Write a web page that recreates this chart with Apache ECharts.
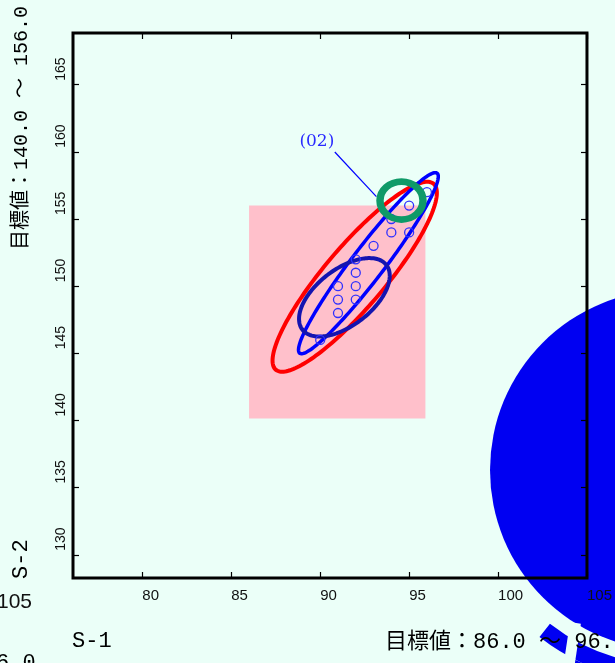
<!DOCTYPE html>
<html>
<head>
<meta charset="utf-8">
<script src="https://cdn.jsdelivr.net/npm/echarts@6/dist/echarts.min.js"></script>
<style>
html,body{margin:0;padding:0;background:#ebfff8;}
#chart{width:615px;height:663px;}
</style>
</head>
<body>
<div id="chart"></div>
<script>
// ---- data ----
const xTicks = [80, 85, 90, 95, 100, 105];
const yTicks = [130, 135, 140, 145, 150, 155, 160, 165];
const xRange = [76.1, 105];
const yRange = [128.27, 168.85];
const pointsX = [90, 91, 91, 91, 92, 92, 92, 92, 93, 94, 95, 94, 95, 96];
const pointsY = [146, 148, 149, 150, 150, 149, 151, 152, 153, 154, 154, 155, 156, 157];
const targetX = [86, 96];
const targetY = [140, 156];
// ellipse: centre x, centre y, half-extent x, half-extent y, correlation
const ellipseRed = [91.94, 150.7, 4.62, 7.07, 0.883];
const ellipseBlue = [92.71, 151.71, 3.93, 6.74, 0.957];
const ellipseNavy = [91.36, 149.17, 2.55, 2.92, 0.55];
const highlightPoint = [94.57, 156.37];
const noteText = '(02)';
const notePoint = [89.81, 160.75];
const noteLeader = [[90.82, 159.99], [93.16, 156.66]];
const xTitle = 'S-1';
const yTitle = 'S-2';
const xTarget = '目標値：86.0 ～ 96.0';
const yTarget = '目標値：140.0 ～ 156.0';

const chart = echarts.init(document.getElementById('chart'));

function ellipseItem(color, width) {
  return function (params, api) {
    const cx = api.value(0), cy = api.value(1), ax = api.value(2), ay = api.value(3), r = api.value(4);
    const s = Math.sqrt(1 - r * r);
    const pts = [];
    for (let i = 0; i < 180; i++) {
      const t = i / 180 * Math.PI * 2;
      pts.push(api.coord([cx + ax * Math.cos(t), cy + ay * (r * Math.cos(t) + s * Math.sin(t))]));
    }
    return {type: 'polygon', shape: {points: pts}, style: {fill: 'none', stroke: color, lineWidth: width}};
  };
}

const monoFont = '"Liberation Mono", "Noto Sans CJK JP"';
const blueFill = '#0000f2';
const bg = '#ebfff8';

const option = {
  animation: false,
  backgroundColor: bg,
  grid: {left: 73, top: 33, width: 514, height: 545, show: true, borderColor: '#000', borderWidth: 3, backgroundColor: 'transparent'},
  xAxis: [
    {type: 'value', min: xRange[0], max: xRange[1], position: 'bottom',
      axisLine: {show: false}, splitLine: {show: false},
      axisTick: {inside: true, length: 6, customValues: xTicks, lineStyle: {color: '#000', width: 1.2}},
      axisLabel: {customValues: xTicks, align: 'left', margin: 10, fontSize: 15, color: '#111', fontFamily: 'Liberation Sans', showMaxLabel: true, showMinLabel: true}},
    {type: 'value', min: xRange[0], max: xRange[1], position: 'top',
      axisLine: {show: false}, splitLine: {show: false},
      axisTick: {inside: true, length: 6, customValues: xTicks, lineStyle: {color: '#000', width: 1.2}},
      axisLabel: {show: false}}
  ],
  yAxis: [
    {type: 'value', min: yRange[0], max: yRange[1], position: 'left',
      axisLine: {show: false}, splitLine: {show: false},
      axisTick: {inside: true, length: 6, customValues: yTicks, lineStyle: {color: '#000', width: 1.2}},
      axisLabel: {customValues: yTicks, rotate: 90, align: 'left', margin: 5, padding: [0, 0, 0, 4], fontSize: 14, color: '#111', fontFamily: 'Liberation Sans', showMaxLabel: true, showMinLabel: true}},
    {type: 'value', min: yRange[0], max: yRange[1], position: 'right',
      axisLine: {show: false}, splitLine: {show: false},
      axisTick: {inside: true, length: 6, customValues: yTicks, lineStyle: {color: '#000', width: 1.2}},
      axisLabel: {show: false}}
  ],
  graphic: [
    {type: 'circle', z: -1, shape: {cx: 670, cy: 470, r: 180}, style: {fill: blueFill}},
    {type: 'sector', z: -1, shape: {cx: 670, cy: 470, r0: 195, r: 212, startAngle: Math.PI * 100 / 180, endAngle: Math.PI * 128 / 180}, style: {fill: blueFill}},
    {type: 'sector', z: -1, shape: {cx: 670, cy: 470, r0: 212, r: 320, startAngle: Math.PI * 100 / 180, endAngle: Math.PI * 117 / 180}, style: {fill: blueFill}},
    {type: 'rect', z: -1, x: 570, y: 622, rotation: -0.15, shape: {x: 0, y: 0, width: 11, height: 50}, style: {fill: bg}},
    {type: 'text', z: 100, x: 385, y: 642, style: {text: xTarget, font: '22px ' + monoFont, fill: '#000', align: 'left', verticalAlign: 'middle'}},
    {type: 'text', z: 100, x: 72, y: 641, style: {text: xTitle, font: '22px ' + monoFont, fill: '#000', align: 'left', verticalAlign: 'middle'}},
    {type: 'text', z: 100, x: 22, y: 250, rotation: Math.PI / 2, style: {text: yTarget, font: '20px ' + monoFont, fill: '#000', align: 'left', verticalAlign: 'middle'}},
    {type: 'text', z: 100, x: 21, y: 579, rotation: Math.PI / 2, style: {text: yTitle, font: '22px ' + monoFont, fill: '#000', align: 'left', verticalAlign: 'middle'}},
    {type: 'text', z: 100, x: 32, y: 602, style: {text: '105', font: '21px "Liberation Sans"', fill: '#111', align: 'right', verticalAlign: 'middle'}},
    {type: 'text', z: 100, x: -4, y: 652, style: {text: '6.0', font: '22px ' + monoFont, fill: '#000', align: 'left', verticalAlign: 'top'}}
  ],
  series: [
    {type: 'custom', name: 'target', z: 1,
      data: [[targetX[0], targetY[0], targetX[1], targetY[1]]],
      renderItem: function (params, api) {
        const p0 = api.coord([api.value(0), api.value(3)]);
        const p1 = api.coord([api.value(2), api.value(1)]);
        return {type: 'rect', shape: {x: p0[0], y: p0[1], width: p1[0] - p0[0] - 1.5, height: p1[1] - p0[1] - 2}, style: {fill: '#ffc0cb'}};
      }},
    {type: 'custom', z: 3, data: [ellipseRed], renderItem: ellipseItem('#ff0000', 4)},
    {type: 'custom', z: 4, data: [ellipseBlue], renderItem: ellipseItem('#0000ff', 3.5)},
    {type: 'custom', z: 5, data: [ellipseNavy], renderItem: ellipseItem('#1414b0', 4)},
    {type: 'scatter', z: 6, symbol: 'circle', symbolSize: 9,
      data: pointsX.map((x, i) => [x, pointsY[i]]),
      itemStyle: {color: 'transparent', borderColor: '#3030ff', borderWidth: 1.3, opacity: 1}},
    {type: 'line', z: 7, data: noteLeader, symbol: 'none', lineStyle: {color: '#0000ff', width: 1.2}},
    {type: 'scatter', z: 8, data: [notePoint], symbolSize: 0, itemStyle: {opacity: 1},
      label: {show: true, position: 'inside', formatter: noteText, color: '#2a2aff', fontSize: 17, fontFamily: 'DejaVu Serif'}},
    {type: 'scatter', z: 9, symbol: 'circle', symbolSize: [43, 38], data: [highlightPoint],
      itemStyle: {color: 'transparent', borderColor: '#0f9a68', borderWidth: 7, opacity: 1}}
  ]
};
chart.setOption(option);
</script>
</body>
</html>
